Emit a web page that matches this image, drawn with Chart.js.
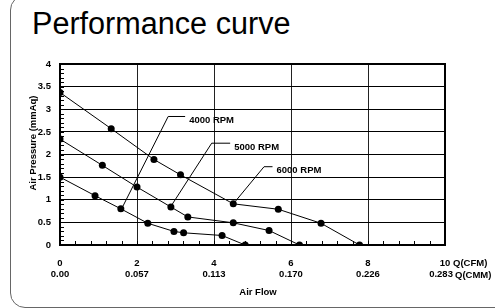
<!DOCTYPE html>
<html>
<head>
<meta charset="utf-8">
<script src="https://cdn.jsdelivr.net/npm/chart.js@4/dist/chart.umd.min.js"></script>
<style>
  body { margin: 0; background: #fff; overflow: hidden; }
  #wrap { position: relative; width: 495px; height: 308px; overflow: hidden; }
  #frame { position: absolute; left: 10px; top: -5px; width: 600px; height: 311px;
           border: 1px solid #666; border-radius: 15px; }
  #title { position: absolute; left: 32px; top: 8px; font: 30.6px "Liberation Sans", Arial, sans-serif;
           line-height: 30px; color: #000; white-space: nowrap; }
  canvas { position: absolute; left: 0; top: 0; }
</style>
</head>
<body>
<div id="wrap">
  <div id="frame"></div>
  <div id="title">Performance curve</div>
  <canvas id="c" width="495" height="308"></canvas>
</div>
<script>
// tick labels
const cfmTicks = [0, 2, 4, 6, 8, 10];
const cmmTicks = ['0.00', '0.057', '0.113', '0.170', '0.226', '0.283'];

// measured curves (x = CFM, y = mmAq)
const rpm4000X = [0, 0.91, 1.58, 2.28, 2.96, 3.21, 4.21, 4.81];
const rpm4000Y = [1.50, 1.09, 0.80, 0.48, 0.30, 0.27, 0.21, 0];
const rpm5000X = [0, 1.10, 2.00, 2.88, 3.32, 4.50, 5.43, 6.22];
const rpm5000Y = [2.34, 1.76, 1.28, 0.84, 0.62, 0.49, 0.32, 0];
const rpm6000X = [0, 1.33, 2.44, 3.13, 4.50, 5.67, 6.78, 7.78];
const rpm6000Y = [3.37, 2.57, 1.89, 1.55, 0.91, 0.79, 0.48, 0];

// callout leader lines
const calloutText = ['4000 RPM', '5000 RPM', '6000 RPM'];
const calloutX = [[1.63, 2.81, 3.25], [2.90, 3.94, 4.42], [4.55, 5.30, 5.52]];
const calloutY = [[0.85, 2.84, 2.84], [0.88, 2.25, 2.25], [0.96, 1.73, 1.73]];

const pts = (xs, ys) => xs.map((x, i) => ({ x: x, y: ys[i] }));
const bold = '"Liberation Sans", Arial, sans-serif';

const curve = (label, xs, ys) => ({
  label: label,
  data: pts(xs, ys),
  borderColor: '#000',
  backgroundColor: '#000',
  borderWidth: 1,
  pointRadius: 3.5,
  pointBorderWidth: 0,
  tension: 0
});
const leader = (i) => ({
  label: 'callout ' + calloutText[i],
  data: pts(calloutX[i], calloutY[i]),
  borderColor: '#000',
  borderWidth: 1,
  pointRadius: 0,
  tension: 0
});

const extras = {
  id: 'extras',
  afterDatasetsDraw(chart) {
    const { ctx, chartArea: a, scales: { x, y } } = chart;
    ctx.save();
    ctx.strokeStyle = '#000';
    ctx.lineWidth = 1;
    ctx.beginPath();
    // minor ticks on y (every 0.1) and x (every 0.4)
    for (let v = 0.1; v < 4; v += 0.1) {
      const py = Math.round(y.getPixelForValue(v)) + 0.5;
      ctx.moveTo(a.left, py); ctx.lineTo(a.left + 4, py);
    }
    for (let v = 0.4; v < 10; v += 0.4) {
      const px = Math.round(x.getPixelForValue(v)) + 0.5;
      ctx.moveTo(px, a.bottom); ctx.lineTo(px, a.bottom - 4);
    }
    ctx.stroke();

    ctx.fillStyle = '#000';
    ctx.font = 'bold 9.5px ' + bold;
    ctx.textBaseline = 'middle';
    ctx.textAlign = 'left';
    calloutText.forEach((t, i) => {
      const px = x.getPixelForValue(calloutX[i][2]) + 4;
      const py = y.getPixelForValue(calloutY[i][2]) + 4;
      ctx.fillText(t, px, py);
    });
    ctx.fillText('Q(CFM)', 453, 263);
    ctx.fillText('Q(CMM)', 455, 275);
    ctx.textAlign = 'center';
    ctx.fillText('Air Flow', 258, 292);
    ctx.translate(33, 143);
    ctx.rotate(-Math.PI / 2);
    ctx.fillText('Air Pressure (mmAq)', 0, 0);
    ctx.restore();
  }
};

new Chart(document.getElementById('c'), {
  type: 'line',
  data: {
    datasets: [
      curve('4000 RPM', rpm4000X, rpm4000Y),
      curve('5000 RPM', rpm5000X, rpm5000Y),
      curve('6000 RPM', rpm6000X, rpm6000Y),
      leader(0), leader(1), leader(2)
    ]
  },
  options: {
    responsive: false,
    animation: false,
    layout: { padding: { top: 64, right: 50, left: 0, bottom: 0 } },
    plugins: { legend: { display: false }, tooltip: { enabled: false } },
    scales: {
      x: {
        type: 'linear',
        min: 0, max: 10,
        afterFit: (s) => { s.height = 63; },
        afterBuildTicks: (s) => { s.ticks = cfmTicks.map(v => ({ value: v })); },
        ticks: {
          color: '#000',
          font: { family: bold, size: 9.5, weight: 'bold', lineHeight: 1.25 },
          padding: 12,
          maxRotation: 0,
          callback: (v) => {
            const i = cfmTicks.indexOf(v);
            // last CMM label sits left of its tick in the original
            return [String(v), i === cfmTicks.length - 1 ? cmmTicks[i] + '   ' : cmmTicks[i]];
          }
        },
        grid: { color: '#222', lineWidth: 1, drawTicks: false },
        border: { color: '#000', width: 2 }
      },
      y: {
        type: 'linear',
        min: 0, max: 4,
        afterFit: (s) => { s.width = 60; },
        ticks: {
          stepSize: 0.5,
          color: '#000',
          font: { family: bold, size: 9.5, weight: 'bold' },
          padding: 9,
          callback: (v) => String(v)
        },
        grid: { color: '#000', lineWidth: 1, drawTicks: false },
        border: { color: '#000', width: 2 }
      }
    }
  },
  plugins: [extras, {
    id: 'box',
    afterDraw(chart) {
      const { ctx, chartArea: a } = chart;
      ctx.save();
      ctx.strokeStyle = '#000';
      ctx.lineWidth = 2;
      ctx.beginPath();
      ctx.moveTo(a.left, a.top); ctx.lineTo(a.right, a.top); ctx.lineTo(a.right, a.bottom);
      ctx.stroke();
      ctx.restore();
    }
  }]
});
</script>
</body>
</html>
